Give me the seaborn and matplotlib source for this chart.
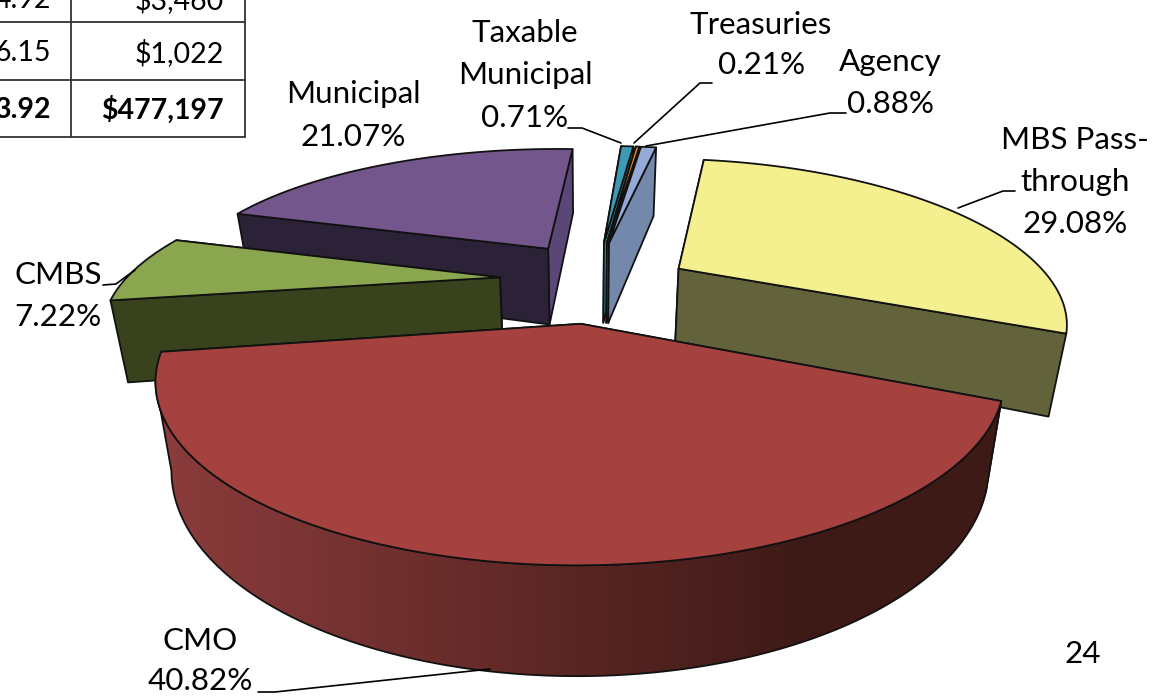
import numpy as np
import matplotlib
matplotlib.use("Agg")
import matplotlib.pyplot as plt
from matplotlib.patches import Polygon
import seaborn as sns

# Portfolio composition, in drawing order clockwise from the top of the pie
sectors = ["Agency", "MBS Pass-through", "CMO", "CMBS", "Municipal",
           "Taxable Municipal", "Treasuries"]
shares = [0.88, 29.08, 40.82, 7.22, 21.07, 0.71, 0.21]

# Summary table cut off at the top of the slide
table_yields = ["4.92", "6.15", "3.92"]
table_values = ["$3,460", "$1,022", "$477,197"]

top_colors = ["#95aad6", "#f4f08f", "#a5423f", "#8aa64e", "#73568c", "#3d9bb3", "#e6862b"]
start_wall = ["#7488ab", "#62633a", "#a5423f", "#38421c", "#2c2238", "#2f7a8e", "#b9661c"]
end_wall = ["#7488ab", "#62633a", "#a5423f", "#38421c", "#5a4778", "#2f7a8e", "#b9661c"]
explode_x = [1.58, 1.25, 0.8, 1.1, 0.95, 1.92, 1.8]
explode_y = [1.0, 0.6, 1.0, 1.0, 1.0, 1.0, 1.0]
angle_shift = [1.5, 0, 0, 0, 0.5, 1.5, 1.5]
radius_x = [1, 0.99, 0.99, 1, 1.01, 1, 1]
radius_y = [1.02, 1.06, 1.01, 1, 1.03, 1.02, 1.02]
extra_depth = [8, 0, 0, 3, 3, 8, 8]

sns.set_theme(style="white")
plt.rcParams["font.family"] = ["Lato", "DejaVu Sans"]

FIRST_ANGLE = 6.0
CX, CY, FX, FY, PERSP = 590.0, 280.0, 375.0, 140.0, 0.28
EX, EY = 0.22, 0.29
EDGE = "#111111"
LW = 1.3


def project(X, Y):
    w = 1.0 / (1.0 - PERSP * np.asarray(Y))
    return CX + FX * np.asarray(X) * w, CY + FY * np.asarray(Y) * w


def drop(x, y, extra=0):
    # Bottom face point below a top face point; verticals converge slightly
    x, y = np.asarray(x), np.asarray(y)
    return 586 + (x - 586) * 0.963, y + 75 + extra + (y - 267) * 0.12


def quad(ax, xs, ys, face, edge=EDGE, lw=LW, z=1):
    patch = Polygon(np.column_stack([xs, ys]), closed=True, facecolor=face,
                    edgecolor=edge, linewidth=lw, joinstyle="round", zorder=z)
    ax.add_patch(patch)
    return patch


fig = plt.figure(figsize=(11.53, 6.96), dpi=100)
ax = fig.add_axes([0, 0, 1, 1])
ax.set_xlim(0, 1153)
ax.set_ylim(696, 0)
ax.axis("off")

edges = FIRST_ANGLE + np.concatenate([[0], np.cumsum(shares)]) * 360.0 / sum(shares)
# Back slices first, the big front slice last
order = [5, 6, 0, 4, 1, 3, 2]
z = 1
for i in order:
    a0, a1 = edges[i] + angle_shift[i], edges[i + 1] + angle_shift[i]
    mid = np.radians((a0 + a1) / 2)
    ox = EX * explode_x[i] * np.sin(mid)
    oy = -EY * explode_y[i] * np.cos(mid)
    th = np.radians(np.linspace(a0, a1, 240))
    ax_, ay_ = project(ox, oy)
    rx, ry = project(ox + radius_x[i] * np.sin(th), oy - radius_y[i] * np.cos(th))
    d = extra_depth[i]

    # Cut faces of the wedge, the one further back first
    cuts = [(rx[0], ry[0], start_wall[i]), (rx[-1], ry[-1], end_wall[i])]
    for (px, py, col) in sorted(cuts, key=lambda c: c[1]):
        bx0, by0 = drop(ax_, ay_, d)
        bx1, by1 = drop(px, py, d)
        quad(ax, [ax_, px, bx1, bx0], [ay_, py, by1, by0], col, z=z)
        z += 1

    # The large front slice shows its shaded rim, up to its leftmost point
    if sectors[i] == "CMO":
        last = int(np.argmin(rx)) + 1
        fx, fy = rx[:last], ry[:last]
        bx, by = drop(fx, fy, d)
        wall_x, wall_y = np.r_[fx, bx[::-1]], np.r_[fy, by[::-1]]
        quad(ax, wall_x, wall_y, "none", z=z + 1)
        steps = 256
        ramp = sns.blend_palette(["#8c3c3c", "#3e1a17"], steps)
        # Colour ramp runs left to right and stays flat past x = 800
        pos = np.linspace(wall_x.min(), wall_x.max(), 800)
        idx = np.clip((pos - wall_x.min()) / (800 - wall_x.min()) * (steps - 1), 0, steps - 1).astype(int)
        strip = np.array(ramp)[idx][None, :, :]
        img = ax.imshow(strip, extent=[wall_x.min(), wall_x.max(), wall_y.max(), wall_y.min()],
                        aspect="auto", zorder=z, interpolation="bilinear")
        clip = Polygon(np.column_stack([wall_x, wall_y]), closed=True, transform=ax.transData)
        img.set_clip_path(clip)
        ax.set_xlim(0, 1153)
        ax.set_ylim(696, 0)
        z += 2

    # Top face
    quad(ax, np.r_[ax_, rx], np.r_[ay_, ry], top_colors[i], z=z)
    z += 1

# Data labels
label_font = dict(fontsize=22.6, color="black", ha="center", va="center", zorder=500)
labels = [
    (761, 25, sectors[6]), (762, 65, f"{shares[6]:.2f}%"),
    (525, 33, "Taxable"), (525, 75, "Municipal"), (525, 118, f"{shares[5]:.2f}%"),
    (890, 62, sectors[0]), (890, 104, f"{shares[0]:.2f}%"),
    (1075, 140, "MBS Pass-"), (1075, 182, "through"), (1075, 224, f"{shares[1]:.2f}%"),
    (353, 94, sectors[4]), (353, 137, f"{shares[4]:.2f}%"),
    (58, 275, sectors[3]), (58, 317, f"{shares[3]:.2f}%"),
    (200, 641, sectors[2]), (200, 681, f"{shares[2]:.2f}%"),
    (1083, 654, "24"),
]
for x, y, s in labels:
    ax.text(x, y, s, **label_font)

# Leader lines from label to slice
leaders = [
    ([568, 582, 621], [128, 128, 143]),
    ([712, 700, 634], [83, 83, 143]),
    ([846, 830, 646], [113, 113, 146]),
    ([1015, 1003, 958], [191, 191, 208]),
    ([103, 116, 135], [285, 284, 270]),
    ([258, 275, 490], [692, 692, 669]),
]
for xs, ys in leaders:
    ax.plot(xs, ys, color="black", lw=1.2, zorder=600)

# Corner of the summary table
for y in (22, 80, 137):
    ax.plot([0, 245], [y, y], color="#333333", lw=1.3, zorder=700)
for x in (71, 245):
    ax.plot([x, x], [0, 137], color="#333333", lw=1.3, zorder=700)
row_y = [0, 53, 110]
for k, y in enumerate(row_y):
    weight = "bold" if k == 2 else "normal"
    ax.text(51, y, table_yields[k], ha="right", va="center", fontsize=20.5,
            fontweight=weight, color="black", zorder=700)
    ax.text(224, y, table_values[k], ha="right", va="center", fontsize=20.5,
            fontweight=weight, color="black", zorder=700)

fig.savefig("out.png", dpi=100, facecolor="white")
